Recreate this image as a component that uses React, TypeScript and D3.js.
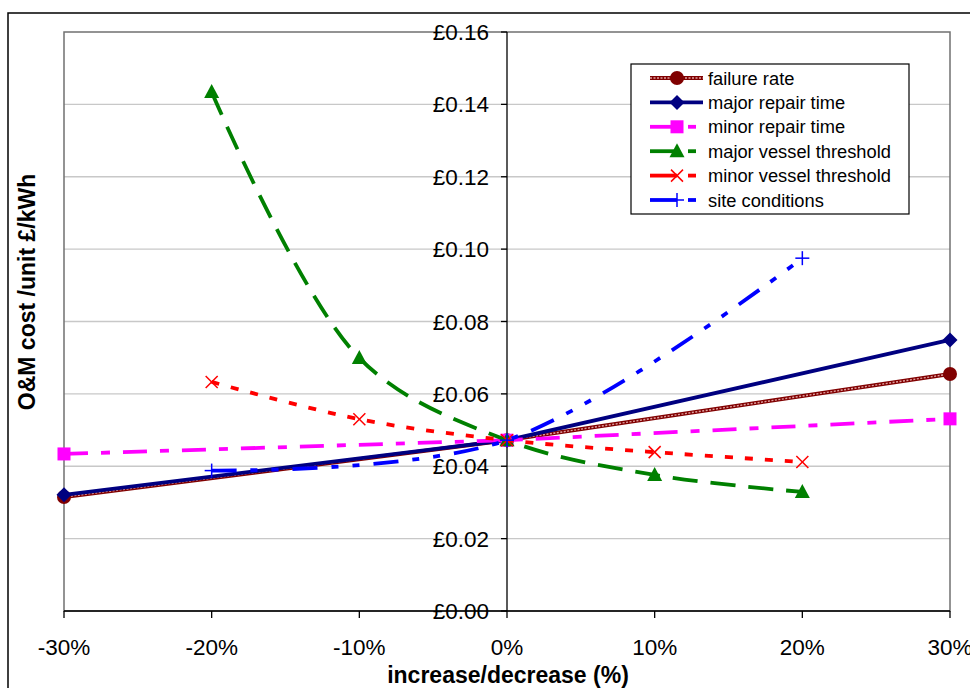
import React from "react";
import * as d3 from "d3";

const W = 970;
const H = 688;

const xTicks = [-30, -20, -10, 0, 10, 20, 30];
const yTicks = [0, 0.02, 0.04, 0.06, 0.08, 0.1, 0.12, 0.14, 0.16];

const failureX = [-30, 0, 30];
const failureY = [0.0315, 0.0472, 0.0655];
const majorRepairX = [-30, 0, 30];
const majorRepairY = [0.0321, 0.0472, 0.0749];
const minorRepairX = [-30, 0, 30];
const minorRepairY = [0.0434, 0.0472, 0.0531];
const majorVesselX = [-20, -10, 0, 10, 20];
const majorVesselY = [0.1434, 0.0699, 0.0472, 0.0376, 0.0329];
const minorVesselX = [-20, -10, 0, 10, 20];
const minorVesselY = [0.0633, 0.053, 0.0472, 0.0439, 0.0412];
const siteX = [-20, 0, 20];
const siteY = [0.0388, 0.0472, 0.0975];

type Marker = "circle" | "diamond" | "square" | "triangle" | "x" | "plus";
interface Series {
  name: string;
  xs: number[];
  ys: number[];
  color: string;
  dash: string | null;
  marker: Marker;
  smooth: boolean;
  rope?: boolean;
}

const series: Series[] = [
  { name: "failure rate", xs: failureX, ys: failureY, color: "#800000", dash: null, marker: "circle", smooth: false, rope: true },
  { name: "major repair time", xs: majorRepairX, ys: majorRepairY, color: "#000080", dash: null, marker: "diamond", smooth: false },
  { name: "minor repair time", xs: minorRepairX, ys: minorRepairY, color: "#FF00FF", dash: "24 13 9 13", marker: "square", smooth: false },
  { name: "major vessel threshold", xs: majorVesselX, ys: majorVesselY, color: "#008000", dash: "25 13", marker: "triangle", smooth: true },
  { name: "minor vessel threshold", xs: minorVesselX, ys: minorVesselY, color: "#FF0000", dash: "8 12", marker: "x", smooth: true },
  { name: "site conditions", xs: siteX, ys: siteY, color: "#0000FF", dash: "25 14 7 14 7 14", marker: "plus", smooth: true },
];

const left = 64, right = 950, top = 32, bottom = 611;
const x = d3.scaleLinear().domain([-30, 30]).range([left, right]);
const y = d3.scaleLinear().domain([0, 0.16]).range([bottom, top]);

const fmtY = (v: number) => "£" + v.toFixed(2);
const fmtX = (v: number) => `${v}%`;

function MarkerShape({ type, cx, cy, color }: { type: Marker; cx: number; cy: number; color: string }) {
  switch (type) {
    case "circle":
      return <circle cx={cx} cy={cy} r={7} fill={color} />;
    case "diamond":
      return <path d={`M${cx},${cy - 7.5}L${cx + 7.5},${cy}L${cx},${cy + 7.5}L${cx - 7.5},${cy}Z`} fill={color} />;
    case "square":
      return <rect x={cx - 6.5} y={cy - 6.5} width={13} height={13} fill={color} />;
    case "triangle":
      return <path d={`M${cx},${cy - 8}L${cx + 7.5},${cy + 6}L${cx - 7.5},${cy + 6}Z`} fill={color} />;
    case "x":
      return (
        <g stroke={color} strokeWidth={1.5}>
          <line x1={cx - 6} y1={cy - 6} x2={cx + 6} y2={cy + 6} />
          <line x1={cx - 6} y1={cy + 6} x2={cx + 6} y2={cy - 6} />
        </g>
      );
    case "plus":
      return (
        <g stroke={color} strokeWidth={1.5}>
          <line x1={cx - 7} y1={cy} x2={cx + 7} y2={cy} />
          <line x1={cx} y1={cy - 7} x2={cx} y2={cy + 7} />
        </g>
      );
  }
}

export default function App() {
  const font = "'Liberation Sans', Arial, sans-serif";
  const legX = 631, legY = 64, legW = 278, legH = 150, rowH = 24.4;

  return (
    <svg width={W} height={H} style={{ position: "absolute", left: 0, top: 0, background: "#fff" }} fontFamily={font}>
      <rect x={0} y={0} width={W} height={H} fill="#fff" />
      {/* outer chart border */}
      <rect x={8} y={13} width={980} height={700} fill="none" stroke="#000" strokeWidth={1.5} />
      {/* gridlines */}
      {yTicks.filter(t => t > 0 && t < 0.16).map(t => (
        <line key={t} x1={left} x2={right} y1={y(t)} y2={y(t)} stroke="#c8c8c8" strokeWidth={1.3} />
      ))}
      {/* plot border */}
      <rect x={left} y={top} width={right - left} height={bottom - top} fill="none" stroke="#707070" strokeWidth={1.5} />
      {/* y axis at 0 */}
      <line x1={x(0)} x2={x(0)} y1={top} y2={bottom} stroke="#000" strokeWidth={1.3} />
      {yTicks.map(t => (
        <g key={t}>
          <line x1={x(0) - 6} x2={x(0)} y1={y(t)} y2={y(t)} stroke="#000" strokeWidth={1.3} />
          <text x={489} y={y(t)} dy="0.36em" textAnchor="end" fontSize={22.5} fill="#000">{fmtY(t)}</text>
        </g>
      ))}
      {/* x axis */}
      <line x1={left} x2={right} y1={bottom} y2={bottom} stroke="#000" strokeWidth={1.3} />
      {xTicks.map(t => (
        <g key={t}>
          <line x1={x(t)} x2={x(t)} y1={bottom} y2={bottom + 7} stroke="#000" strokeWidth={1.3} />
          <text x={x(t)} y={655} textAnchor="middle" fontSize={22.5} fill="#000">{fmtX(t)}</text>
        </g>
      ))}
      <text x={508} y={683} textAnchor="middle" fontSize={23} fontWeight="bold">increase/decrease (%)</text>
      <text transform={`translate(35,${292}) rotate(-90)`} textAnchor="middle" fontSize={23} fontWeight="bold">O&amp;M cost /unit £/kWh</text>

      {/* series */}
      {series.map(s => {
        const pts: [number, number][] = s.xs.map((v, i) => [x(v), y(s.ys[i])]);
        const gen = d3.line().curve(s.smooth ? d3.curveCatmullRom.alpha(0.5) : d3.curveLinear);
        const d = gen(pts) || "";
        return (
          <g key={s.name}>
            {s.rope ? (
              <>
                <path d={d} fill="none" stroke={s.color} strokeWidth={4} />
                <path d={d} fill="none" stroke="#e0a0a0" strokeWidth={1.4} strokeDasharray="2 1.5" />
              </>
            ) : (
              <path d={d} fill="none" stroke={s.color} strokeWidth={3.8} strokeDasharray={s.dash || undefined} />
            )}
            {pts.map((p, i) => <MarkerShape key={i} type={s.marker} cx={p[0]} cy={p[1]} color={s.color} />)}
          </g>
        );
      })}

      {/* legend */}
      <rect x={legX} y={legY} width={legW} height={legH} fill="#fff" stroke="#000" strokeWidth={1.2} />
      {series.map((s, i) => {
        const cy = 78 + i * rowH;
        const lx1 = 650, lx2 = 703, mx = 677;
        let lineEl;
        if (s.rope) {
          lineEl = (
            <>
              <line x1={lx1} x2={lx2} y1={cy} y2={cy} stroke={s.color} strokeWidth={4} />
              <line x1={lx1} x2={lx2} y1={cy} y2={cy} stroke="#e0a0a0" strokeWidth={1.4} strokeDasharray="2 1.5" />
            </>
          );
        } else if (s.dash) {
          lineEl = (
            <>
              <line x1={lx1} x2={mx} y1={cy} y2={cy} stroke={s.color} strokeWidth={3.8} />
              <line x1={mx + 11} x2={lx2 - 7} y1={cy} y2={cy} stroke={s.color} strokeWidth={3.8} />
            </>
          );
        } else {
          lineEl = <line x1={lx1} x2={lx2} y1={cy} y2={cy} stroke={s.color} strokeWidth={3.8} />;
        }
        return (
          <g key={s.name}>
            {lineEl}
            <MarkerShape type={s.marker} cx={mx} cy={cy} color={s.color} />
            <text x={708} y={cy} dy="0.36em" fontSize={18.3} fill="#000">{s.name}</text>
          </g>
        );
      })}
    </svg>
  );
}
